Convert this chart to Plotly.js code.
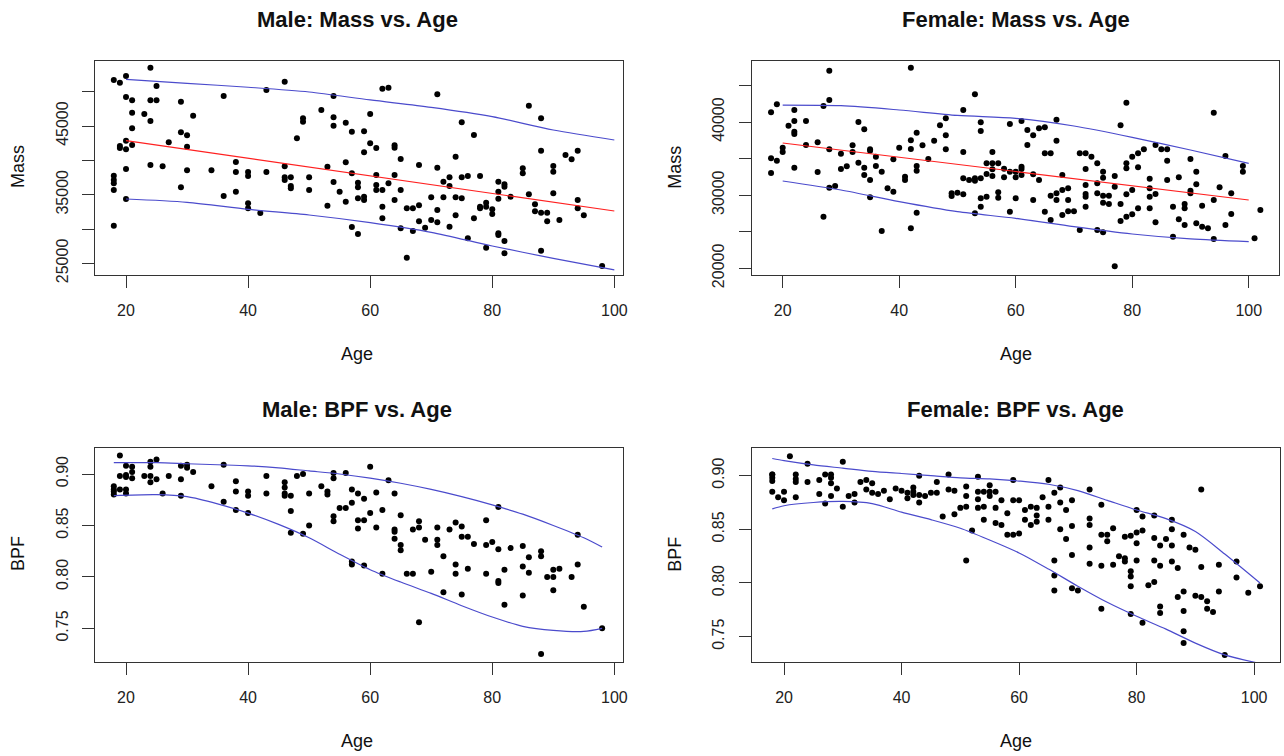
<!DOCTYPE html>
<html>
<head>
<meta charset="utf-8">
<script src="https://cdn.plot.ly/plotly-3.0.1.min.js"></script>
<style>html,body{margin:0;padding:0;background:#fff;}#chart{width:1284px;height:756px;}</style>
</head>
<body>
<div id="chart"></div>
<script>
// ---------- Male: Mass vs. Age ----------
const maleMassAge = [18,19,20,24,25,20,21,24,25,29,36,43,46,21,23,24,31,21,20,19,19,20,21,27,29,30,30,20,24,26,30,34,38,38,40,40,43,46,46,46,47,47,47,50,50,18,18,18,18,29,36,38,40,40,42,18,20,48,49,49,52,54,54,54,56,57,59,59,53,56,57,54,55,56,53,58,58,58,59,59,57,58,
62,63,60,60,61,61,61,61,62,63,64,64,64,64,62,62,65,65,65,66,67,67,66,68,68,68,69,70,70,71,71,71,71,72,72,73,73,73,74,74,74,75,75,75,76,76,77,77,78,78,78,79,79,79,80,80,81,81,81,81,81,82,82,82,82,83,85,85,86,86,87,87,88,88,88,88,89,89,90,90,90,91,92,93,94,94,94,95,98];
const maleMass = [51700,51310,52280,53490,50820,49220,48740,48740,48740,48540,49370,50240,51460,46940,46750,45730,46500,44660,42870,42090,41800,41600,42230,42620,44080,43640,41990,38740,39320,39130,38550,38550,39760,38300,38300,37720,38300,39130,37530,37140,37530,36270,35930,37530,35680,37770,37140,36650,35680,36070,34810,35440,33740,33010,32330,30490,34370,43200,46120,45630,47330,49370,46260,45050,45490,44180,44220,41170,39080,39710,38110,36850,35440,33980,33400,36750,36070,34470,34710,34230,30310,29280,
50440,50580,46750,42480,41800,37870,36410,35680,35680,36650,37870,42190,41850,34230,33260,31560,40200,35680,30100,33010,33010,29710,25830,39320,33450,31120,30190,34620,31320,49610,38930,32770,30980,36900,34620,37530,36270,30340,40540,34620,31990,45530,37530,34470,37720,28650,43690,31560,37720,33260,33010,33260,33840,27290,32870,32190,36900,35440,34420,29370,29130,36510,36170,28260,26460,34710,38840,38110,47960,35050,33600,32580,46120,41410,32380,26850,32380,31120,39180,38350,35200,31320,40780,40150,41410,34230,33010,31990,24620];
const maleMassFitAge = [20,100];
const maleMassFit = [42860,32620];
const maleMassBandAge = [20,30,40,50,60,70,80,90,100];
const maleMassUpper = [51790,51210,50640,49950,48790,47720,46360,44420,42960];
const maleMassLower = [34370,33890,32870,32040,30930,29520,27530,25730,24040];

// ---------- Female: Mass vs. Age ----------
const femaleMassAge = [18,19,18,19,18,20,20,21,22,22,22,22,22,24,24,26,26,27,27,28,28,28,28,29,30,30,31,32,32,33,33,34,34,34,35,35,35,35,36,36,37,37,38,39,39,40,41,41,42,42,42,42,43,43,43,43,44,45,46,47,48,48,48,49,49,50,51,51,51,51,52,53,53,53,53,54,54,54,54,54,55,55,55,56,56,56,56,57,57,57,58,58,
59,59,59,60,60,60,61,61,61,61,62,62,63,63,63,64,64,65,65,65,66,66,66,67,67,67,67,68,68,68,69,69,69,70,71,71,72,72,72,72,72,72,73,74,74,74,74,75,75,75,75,75,76,76,77,77,77,78,78,78,79,79,79,79,79,80,80,80,81,81,81,82,83,83,83,83,84,84,84,85,86,86,86,87,87,88,88,89,89,89,90,90,90,91,91,91,92,92,93,94,94,94,95,96,96,97,97,99,99,101,102];
const femaleMass = [41320,42420,35030,34710,33030,36490,35900,39500,41640,40140,38680,38360,33760,40140,36860,37220,33170,42190,27060,47020,43010,36260,31020,31250,35670,33580,33940,36810,35900,40000,34440,39000,33760,32750,36260,36080,32070,29700,35260,33990,33210,25100,30930,30480,34900,36490,32530,32070,37490,36310,47430,25460,38540,33990,33350,27610,36810,34940,37450,39540,40500,38180,36260,30250,29880,30340,41640,35900,32300,30110,32070,43780,32300,31980,27510,39950,38770,32300,29570,28430,32890,34350,29790,35900,34350,33530,32620,34350,30390,29660,33620,32440,
39730,33210,27740,33210,32440,29570,40140,33890,33580,32750,38910,36860,38180,32850,29340,39130,32070,39270,35720,27740,35720,29930,26600,40320,37450,30250,29340,32750,30700,27290,30930,29340,27790,27790,25240,35720,35720,33580,31390,30160,29790,28430,35260,34350,31620,30250,25240,33210,32390,29930,28970,24920,29930,28790,32620,31160,20270,39540,28790,26470,42640,34350,33670,30110,27060,35260,30700,27380,35720,33800,28200,36260,32250,30930,29790,28200,36860,30160,26280,36260,36260,34710,32070,28430,24320,32440,26690,28790,28200,25920,34940,30610,30250,33210,31480,26150,28560,25690,25460,41280,29340,24010,31070,35350,25920,30250,27420,33990,33210,24100,27970];
const femaleMassFitAge = [20,100];
const femaleMassFit = [37130,29340];
const femaleMassBandAge = [20,30,40,50,60,70,80,90,100];
const femaleMassUpper = [42320,42230,41640,40910,40500,39450,37900,36170,34350];
const femaleMassLower = [31930,30700,29110,27740,26830,25690,24690,24010,23640];

// ---------- Male: BPF vs. Age ----------
const maleBpfAge = [18,18,18,18,19,20,20,19,20,20,20,21,21,21,23,24,24,24,24,25,25,26,27,29,29,29,30,30,31,34,36,36,38,38,38,40,40,40,43,43,46,46,46,46,47,47,47,48,49,49,50,50,52,53,53,54,54,54,54,55,56,56,57,57,57,57,58,58,58,59,59,59,19,
60,60,61,61,62,62,63,64,64,64,64,65,65,65,66,67,67,68,68,68,69,70,71,71,71,72,72,73,74,74,74,75,75,75,76,76,77,79,79,79,80,81,81,81,81,82,82,83,85,85,85,86,86,88,88,88,89,90,90,90,91,93,94,94,95,98];
const maleBpf = [0.888,0.885,0.883,0.880,0.885,0.885,0.881,0.898,0.908,0.899,0.897,0.907,0.902,0.896,0.898,0.912,0.907,0.898,0.892,0.914,0.895,0.881,0.898,0.908,0.895,0.879,0.909,0.906,0.902,0.888,0.909,0.873,0.893,0.883,0.865,0.883,0.879,0.862,0.898,0.881,0.892,0.887,0.881,0.879,0.879,0.864,0.843,0.898,0.900,0.842,0.881,0.850,0.888,0.883,0.880,0.901,0.896,0.859,0.854,0.867,0.901,0.867,0.885,0.872,0.815,0.812,0.881,0.855,0.847,0.876,0.855,0.811,0.918,
0.907,0.862,0.882,0.848,0.865,0.803,0.894,0.881,0.846,0.844,0.837,0.860,0.831,0.826,0.803,0.803,0.846,0.854,0.848,0.756,0.836,0.805,0.848,0.836,0.831,0.820,0.785,0.846,0.853,0.812,0.803,0.849,0.839,0.783,0.839,0.808,0.832,0.855,0.831,0.803,0.834,0.868,0.827,0.796,0.794,0.807,0.773,0.828,0.830,0.810,0.782,0.819,0.804,0.825,0.820,0.725,0.800,0.807,0.800,0.787,0.808,0.800,0.841,0.812,0.771,0.750];
const maleBpfBandAge = [18,25,30,35,40,45,50,55,60,65,70,75,80,85,90,95,98];
const maleBpfUpper = [0.911,0.911,0.910,0.909,0.908,0.906,0.903,0.900,0.896,0.891,0.885,0.878,0.870,0.861,0.850,0.838,0.829];
const maleBpfLower = [0.879,0.880,0.878,0.871,0.862,0.851,0.838,0.822,0.807,0.795,0.784,0.772,0.761,0.752,0.748,0.747,0.750];

// ---------- Female: BPF vs. Age ----------
const femaleBpfAge = [18,18,18,18,18,19,20,20,21,22,22,22,22,24,24,26,26,27,27,28,28,28,28,29,30,30,31,32,32,33,34,34,35,35,36,37,38,39,40,41,41,42,42,42,43,43,43,44,45,46,46,47,48,48,49,49,50,51,51,51,51,52,53,53,53,53,54,54,54,55,55,55,56,56,56,57,57,58,58,
59,59,59,60,60,61,61,62,62,63,63,63,64,65,65,65,66,66,66,66,67,67,67,68,68,69,69,69,69,70,72,72,72,72,72,74,74,74,74,75,75,76,76,77,78,78,78,79,79,79,79,79,80,80,80,80,81,81,81,82,83,83,83,83,84,84,84,84,85,86,86,86,86,87,87,88,88,88,88,88,89,90,90,91,91,91,92,92,93,94,94,95,97,97,99,101];
const femaleBpf = [0.901,0.898,0.895,0.901,0.885,0.880,0.885,0.877,0.918,0.901,0.897,0.894,0.880,0.911,0.894,0.896,0.883,0.901,0.874,0.901,0.898,0.893,0.881,0.888,0.913,0.871,0.881,0.883,0.875,0.894,0.896,0.887,0.893,0.884,0.883,0.886,0.878,0.888,0.886,0.884,0.879,0.889,0.885,0.882,0.900,0.882,0.875,0.881,0.884,0.894,0.884,0.862,0.901,0.887,0.886,0.864,0.870,0.890,0.881,0.871,0.821,0.849,0.899,0.885,0.878,0.870,0.885,0.871,0.859,0.891,0.885,0.881,0.885,0.870,0.856,0.877,0.854,0.865,0.845,
0.896,0.877,0.845,0.877,0.846,0.868,0.859,0.871,0.854,0.870,0.863,0.857,0.880,0.896,0.871,0.859,0.884,0.821,0.807,0.793,0.889,0.875,0.850,0.868,0.841,0.877,0.853,0.826,0.795,0.793,0.887,0.860,0.854,0.833,0.818,0.873,0.845,0.816,0.776,0.845,0.839,0.851,0.817,0.825,0.843,0.823,0.820,0.844,0.811,0.806,0.797,0.771,0.868,0.847,0.837,0.821,0.862,0.849,0.763,0.798,0.863,0.842,0.821,0.801,0.835,0.816,0.778,0.772,0.841,0.859,0.850,0.835,0.820,0.814,0.787,0.845,0.792,0.774,0.755,0.744,0.833,0.831,0.788,0.887,0.815,0.787,0.783,0.776,0.773,0.817,0.792,0.733,0.820,0.805,0.791,0.797];
const femaleBpfBandAge = [18,20,25,30,35,40,45,50,55,60,65,70,75,80,85,90,95,101];
const femaleBpfUpper = [0.916,0.914,0.910,0.907,0.904,0.902,0.900,0.898,0.897,0.895,0.892,0.886,0.877,0.868,0.860,0.848,0.827,0.800];
const femaleBpfLower = [0.869,0.872,0.875,0.876,0.874,0.866,0.859,0.851,0.840,0.828,0.813,0.797,0.782,0.769,0.757,0.744,0.733,0.725];

// ---------- figure ----------
const W = 1284, H = 756;
const BLUE = '#4b4bcc', RED = '#ff2020';
function pts(x, y, ax) {
  return {x: x, y: y, xaxis: 'x' + ax, yaxis: 'y' + ax, type: 'scatter', mode: 'markers',
          marker: {color: '#000', size: 6}, hoverinfo: 'x+y'};
}
function line(x, y, ax, color, spline) {
  return {x: x, y: y, xaxis: 'x' + ax, yaxis: 'y' + ax, type: 'scatter', mode: 'lines',
          line: {color: color, width: 1.2, shape: spline ? 'spline' : 'linear', smoothing: 0.8}, hoverinfo: 'skip'};
}
const traces = [
  pts(maleMassAge, maleMass, ''), line(maleMassFitAge, maleMassFit, '', RED, false),
  line(maleMassBandAge, maleMassUpper, '', BLUE, true), line(maleMassBandAge, maleMassLower, '', BLUE, true),
  pts(femaleMassAge, femaleMass, '2'), line(femaleMassFitAge, femaleMassFit, '2', RED, false),
  line(femaleMassBandAge, femaleMassUpper, '2', BLUE, true), line(femaleMassBandAge, femaleMassLower, '2', BLUE, true),
  pts(maleBpfAge, maleBpf, '3'),
  line(maleBpfBandAge, maleBpfUpper, '3', BLUE, true), line(maleBpfBandAge, maleBpfLower, '3', BLUE, true),
  pts(femaleBpfAge, femaleBpf, '4'),
  line(femaleBpfBandAge, femaleBpfUpper, '4', BLUE, true), line(femaleBpfBandAge, femaleBpfLower, '4', BLUE, true)
];

const FONT = 'Liberation Sans, Arial, sans-serif';
const tickFont = {family: FONT, size: 16, color: '#222'};
function xax(px0, px1, range, anchor) {
  return {domain: [px0 / W, px1 / W], range: range, autorange: false, anchor: anchor,
          tickvals: [20, 40, 60, 80, 100], ticks: 'outside', ticklen: 12, tickcolor: '#333', tickwidth: 1,
          showline: true, mirror: true, linecolor: '#333', linewidth: 1, showgrid: false, zeroline: false,
          tickfont: tickFont, ticklabelstandoff: 8, fixedrange: true};
}
function yax(top, bottom, range, vals, text, anchor) {
  return {domain: [1 - bottom / H, 1 - top / H], range: range, autorange: false, anchor: anchor,
          tickvals: vals, ticktext: text, tickangle: -90, ticks: 'outside', ticklen: 12, tickcolor: '#333', tickwidth: 1,
          showline: true, mirror: true, linecolor: '#333', linewidth: 1, showgrid: false, zeroline: false,
          tickfont: tickFont, ticklabelstandoff: 8, fixedrange: true};
}
const massTicksM = [25000, 30000, 35000, 40000, 45000, 50000];
const massTextM = ['25000', '', '35000', '', '45000', ''];
const massTicksF = [20000, 25000, 30000, 35000, 40000, 45000];
const massTextF = ['20000', '', '30000', '', '40000', ''];
const bpfTicks = [0.75, 0.80, 0.85, 0.90];
const bpfText = ['0.75', '0.80', '0.85', '0.90'];

function ann(text, xpx, ypx, size, bold, angle) {
  return {text: bold ? '<b>' + text + '</b>' : text, x: xpx / W, y: 1 - ypx / H, xref: 'paper', yref: 'paper',
          xanchor: 'center', yanchor: 'middle', showarrow: false, textangle: angle || 0,
          font: {family: FONT, size: size, color: '#111'}};
}
const titles = ['Male: Mass vs. Age', 'Female: Mass vs. Age', 'Male: BPF vs. Age', 'Female: BPF vs. Age'];

const layout = {
  width: W, height: H, margin: {l: 0, r: 0, t: 0, b: 0},
  paper_bgcolor: '#fff', plot_bgcolor: '#fff', showlegend: false,
  xaxis: xax(95, 623.3, [14.92, 101.47], 'y'),
  yaxis: yax(61, 275.3, [23262, 54464], massTicksM, massTextM, 'x'),
  xaxis2: xax(751.7, 1279.3, [14.68, 105.25], 'y2'),
  yaxis2: yax(61, 275.3, [19043, 48339], massTicksF, massTextF, 'x2'),
  xaxis3: xax(95, 623.3, [14.92, 101.47], 'y3'),
  yaxis3: yax(448.3, 662.3, [0.717, 0.925], bpfTicks, bpfText, 'x3'),
  xaxis4: xax(751.7, 1280, [14.5, 104.4], 'y4'),
  yaxis4: yax(448.3, 662.3, [0.7261, 0.9255], bpfTicks, bpfText, 'x4'),
  annotations: [
    ann(titles[0], 357, 19.5, 22, true), ann(titles[1], 1015.5, 19.5, 22, true),
    ann(titles[2], 357, 409.5, 22, true), ann(titles[3], 1015.5, 409.5, 22, true),
    ann('Age', 357, 354, 18, false), ann('Age', 1015.5, 354, 18, false),
    ann('Age', 357, 741, 18, false), ann('Age', 1015.5, 741, 18, false),
    ann('Mass', 18, 167, 18, false, -90), ann('Mass', 674.7, 167, 18, false, -90),
    ann('BPF', 18, 554, 18, false, -90), ann('BPF', 674.7, 554, 18, false, -90)
  ]
};
Plotly.newPlot('chart', traces, layout, {displayModeBar: false, staticPlot: true});
</script>
</body>
</html>
